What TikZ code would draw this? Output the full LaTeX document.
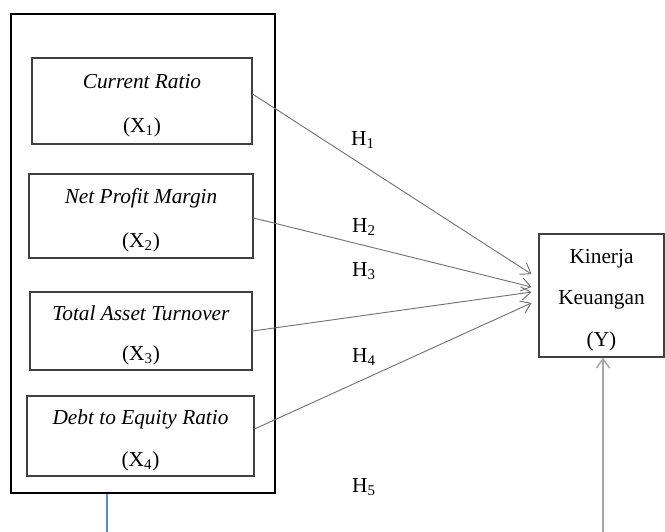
\documentclass[tikz,border=0pt]{standalone}
\usepackage{fontspec}
\setmainfont{Liberation Serif}
\usetikzlibrary{arrows.meta}
\definecolor{boxline}{rgb}{0.25,0.25,0.25}
\definecolor{arrowgray}{rgb}{0.45,0.45,0.45}
\definecolor{lightgray2}{rgb}{0.65,0.65,0.65}
\definecolor{blueline}{RGB}{91,139,201}
\newcommand{\topstrut}{\rule{0pt}{17.5pt}}
\tikzset{
  varbox/.style={draw=boxline, line width=0.8pt, inner sep=0pt, align=center,
    font=\fontsize{16}{32}\selectfont},
  outerbox/.style={draw=black, line width=1.3pt, inner sep=0pt},
  hyparrow/.style={draw=arrowgray, line width=0.7pt, -{Straight Barb[length=7pt,width=10pt]}},
  hlabel/.style={font=\fontsize{16}{19}\selectfont, inner sep=0pt}
}
\begin{document}
\begin{tikzpicture}[x=0.75pt,y=-0.75pt]
\useasboundingbox (0,0) rectangle (665,532);
% outer box
\node[outerbox, minimum width=198pt, minimum height=359.25pt] (outer) at (143,253.5) {};
% variable boxes
\node[varbox, minimum width=165pt, minimum height=64.5pt, font=\fontsize{16}{33}\selectfont] (x1) at (142,101) {\topstrut\textit{Current Ratio}\\(X\textsubscript{1})};
\node[varbox, minimum width=168pt, minimum height=63pt, font=\fontsize{16}{33}\selectfont] (x2) at (141,216) {\topstrut\textit{Net Profit Margin}\\(X\textsubscript{2})};
\node[varbox, minimum width=166.5pt, minimum height=58.5pt, font=\fontsize{16}{30}\selectfont] (x3) at (141,331) {\topstrut\textit{Total Asset Turnover}\\(X\textsubscript{3})};
\node[varbox, minimum width=170.25pt, minimum height=60pt, font=\fontsize{16}{31.5}\selectfont] (x4) at (140.5,436) {\topstrut\textit{Debt to Equity Ratio}\\(X\textsubscript{4})};
\node[varbox, minimum width=93.75pt, minimum height=92.25pt, font=\fontsize{16}{31}\selectfont] (y) at (601.5,295.5) {\topstrut Kinerja\\Keuangan\\(Y)};
% hypothesis labels
\node[hlabel] (h1) at (363,140) {H\textsubscript{1}};
\node[hlabel] (h2) at (364,227) {H\textsubscript{2}};
\node[hlabel] (h3) at (364,271) {H\textsubscript{3}};
\node[hlabel] (h4) at (364,357) {H\textsubscript{4}};
\node[hlabel] (h5) at (364,487) {H\textsubscript{5}};
% arrows
\draw[hyparrow] ([yshift=5.25pt]x1.east) -- ([xshift=-5.25pt,yshift=16pt]y.west);
\draw[hyparrow] ([yshift=-1.5pt]x2.east) -- ([xshift=-5.25pt,yshift=6.4pt]y.west);
\draw[hyparrow] (x3.east) -- ([xshift=-5.25pt,yshift=2.6pt]y.west);
\draw[hyparrow] ([yshift=5.25pt]x4.east) -- ([xshift=-5.25pt,yshift=-5.6pt]y.west);
% bottom lines
\coordinate (bl) at (107,532);
\coordinate (gl) at (603,532);
\draw[draw=blueline, line width=0.9pt] (bl |- outer.south) -- (bl);
\draw[draw=lightgray2, line width=1.1pt, -{Straight Barb[length=7pt,width=10pt]}] (gl) -- (gl |- y.south);
\end{tikzpicture}
\end{document}
